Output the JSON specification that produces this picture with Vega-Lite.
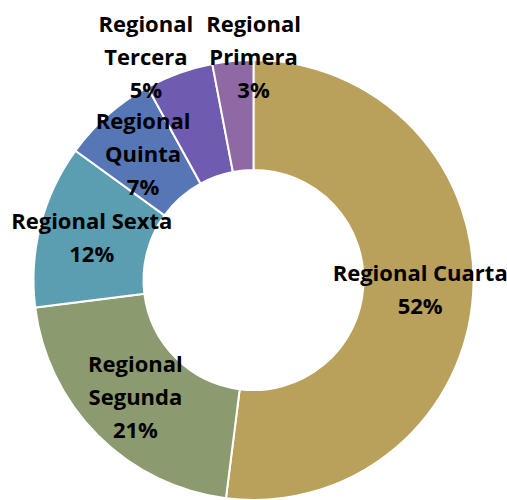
{
  "$schema": "https://vega.github.io/schema/vega-lite/v6.json",
  "width": 507,
  "height": 440,
  "autosize": {"type": "none"},
  "padding": {"top": 60, "left": 0, "right": 0, "bottom": 0},
  "background": "white",
  "view": {"stroke": null},
  "data": {
    "values": [
      {"region": "Regional Cuarta", "idx": 1, "pct": 52, "label": "Regional Cuarta|52%"},
      {"region": "Regional Segunda", "idx": 2, "pct": 21, "label": "Regional|Segunda|21%"},
      {"region": "Regional Sexta", "idx": 3, "pct": 12, "label": "Regional Sexta|12%"},
      {"region": "Regional Quinta", "idx": 4, "pct": 7, "label": "Regional|Quinta|7%"},
      {"region": "Regional Tercera", "idx": 5, "pct": 5, "label": "Regional|Tercera|5%"},
      {"region": "Regional Primera", "idx": 6, "pct": 3, "label": "Regional|Primera|3%"}
    ]
  },
  "encoding": {
    "theta": {"field": "pct", "type": "quantitative", "stack": true},
    "order": {"field": "idx", "type": "quantitative"}
  },
  "layer": [
    {
      "mark": {"type": "arc", "outerRadius": 220, "innerRadius": 110, "stroke": "white", "strokeWidth": 2},
      "encoding": {
        "color": {
          "field": "region", "type": "nominal", "legend": null,
          "scale": {
            "domain": ["Regional Cuarta", "Regional Segunda", "Regional Sexta", "Regional Quinta", "Regional Tercera", "Regional Primera"],
            "range": ["#B9A15B", "#8C9A6F", "#5C9EB1", "#5676B6", "#6F5BAF", "#8E69A3"]
          }
        }
      }
    },
    {
      "mark": {"type": "text", "radius": 167, "dy": -16.5, "fontSize": 22, "fontWeight": "bold", "font": "Open Sans", "lineBreak": "|", "lineHeight": 33, "color": "black", "baseline": "middle"},
      "encoding": {
        "text": {"condition": {"test": "datum.idx == 1 || datum.idx == 3", "field": "label"}, "value": ""}
      }
    },
    {
      "mark": {"type": "text", "radius": 167, "dy": -33, "fontSize": 22, "fontWeight": "bold", "font": "Open Sans", "lineBreak": "|", "lineHeight": 33, "color": "black", "baseline": "middle"},
      "encoding": {
        "text": {"condition": {"test": "datum.idx == 2 || datum.idx == 4", "field": "label"}, "value": ""}
      }
    },
    {
      "mark": {"type": "text", "radius": 247, "dx": -24, "dy": -23, "fontSize": 22, "fontWeight": "bold", "font": "Open Sans", "lineBreak": "|", "lineHeight": 33, "color": "black", "baseline": "middle"},
      "encoding": {
        "text": {"condition": {"test": "datum.idx == 5", "field": "label"}, "value": ""}
      }
    },
    {
      "mark": {"type": "text", "radius": 223, "dx": 21, "dy": -33, "fontSize": 22, "fontWeight": "bold", "font": "Open Sans", "lineBreak": "|", "lineHeight": 33, "color": "black", "baseline": "middle"},
      "encoding": {
        "text": {"condition": {"test": "datum.idx == 6", "field": "label"}, "value": ""}
      }
    }
  ]
}
